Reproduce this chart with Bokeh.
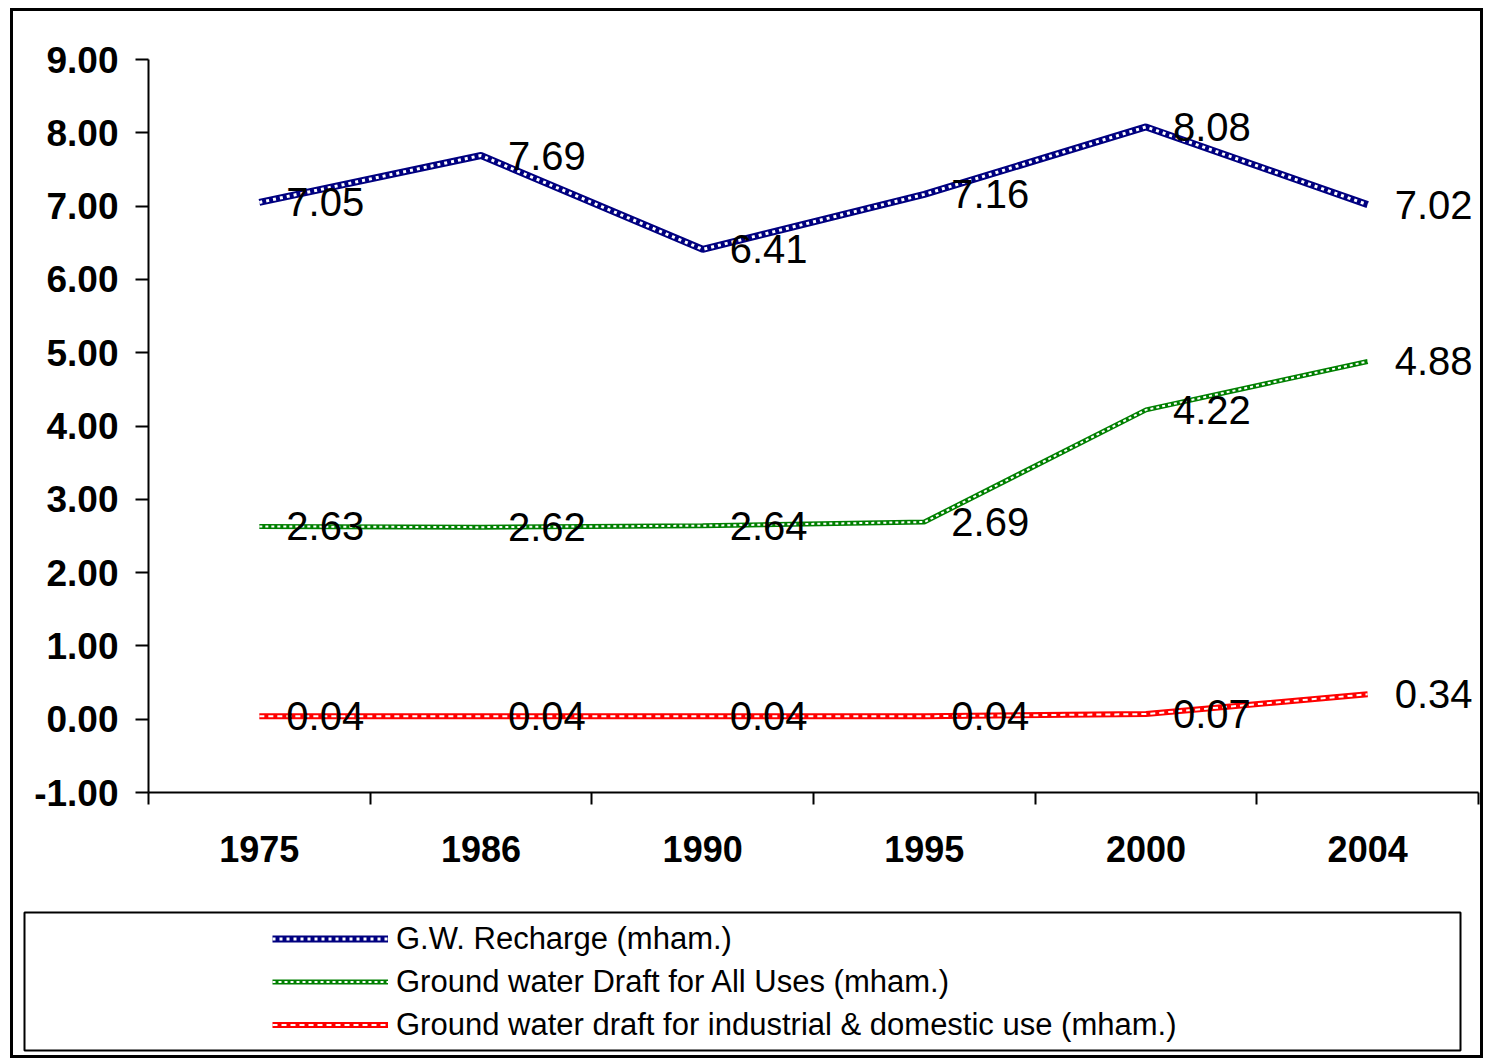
from bokeh.plotting import figure
from bokeh.layouts import column
from bokeh.models import (Range1d, FixedTicker, NumeralTickFormatter, Legend, LegendItem,
                          ColumnDataSource, LabelSet)
from bokeh.core.properties import value
from bokeh.embed import file_html
from bokeh.resources import INLINE

years = ["1975", "1986", "1990", "1995", "2000", "2004"]
recharge = [7.05, 7.69, 6.41, 7.16, 8.08, 7.02]
draft_all = [2.63, 2.62, 2.64, 2.69, 4.22, 4.88]
draft_ind = [0.04, 0.04, 0.04, 0.04, 0.07, 0.34]
y_ticks = [-1, 0, 1, 2, 3, 4, 5, 6, 7, 8, 9]
series_names = ["G.W. Recharge (mham.)",
                "Ground water Draft for All Uses (mham.)",
                "Ground water draft for industrial & domestic use (mham.)"]
series_colors = ["#000080", "#008000", "#FF0000"]

FONT = "Liberation Sans"
W = 1467
BORDER = "3px solid black"
xpos = [i + 0.5 for i in range(len(years))]

src = ColumnDataSource(dict(x=xpos, rech=recharge, dall=draft_all, dind=draft_ind,
                            lrech=[f"{v:.2f}" for v in recharge],
                            ldall=[f"{v:.2f}" for v in draft_all],
                            ldind=[f"{v:.2f}" for v in draft_ind]))

# styles per series: (main width, overlay width, overlay dash)
styles = [(7, 3, "3 4"), (5, 2, "3 3"), (6, 2, "5 4")]
cols = ["rech", "dall", "dind"]


def draw_series(fig):
    rs = []
    for col, color, (w, ow, dash) in zip(cols, series_colors, styles):
        a = fig.line("x", col, source=src, line_color=color, line_width=w)
        b = fig.line("x", col, source=src, line_color="white", line_width=ow, line_dash=dash)
        rs.append([a, b])
    return rs


# ---------------- main chart ----------------
p = figure(width=W, height=894, x_range=Range1d(0, len(years)), y_range=Range1d(-1, 9),
           output_backend="svg", toolbar_location=None,
           min_border_left=135, min_border_right=2, min_border_top=48, min_border_bottom=113)
p.outline_line_color = None
p.grid.visible = False
p.background_fill_color = "white"
p.border_fill_color = "white"

p.yaxis.ticker = FixedTicker(ticks=y_ticks, minor_ticks=[])
p.yaxis.formatter = NumeralTickFormatter(format="0.00")
p.yaxis.major_label_text_font = FONT
p.yaxis.major_label_text_font_style = "bold"
p.yaxis.major_label_text_font_size = "37px"
p.yaxis.major_label_text_color = "black"
p.yaxis.major_tick_out = 13
p.yaxis.major_tick_in = 0
p.yaxis.major_label_standoff = 17
p.yaxis.axis_line_width = 2
p.yaxis.major_tick_line_width = 2
p.yaxis.axis_line_color = "black"
p.yaxis.major_tick_line_color = "black"

p.xaxis.ticker = FixedTicker(ticks=xpos, minor_ticks=list(range(len(years) + 1)))
p.xaxis.major_label_overrides = {x: y for x, y in zip(xpos, years)}
p.xaxis.major_label_text_font = FONT
p.xaxis.major_label_text_font_style = "bold"
p.xaxis.major_label_text_font_size = "36px"
p.xaxis.major_label_text_color = "black"
p.xaxis.major_tick_out = 0
p.xaxis.major_tick_in = 0
p.xaxis.minor_tick_out = 12
p.xaxis.minor_tick_in = 0
p.xaxis.minor_tick_line_width = 2
p.xaxis.minor_tick_line_color = "black"
p.xaxis.major_label_standoff = 31
p.xaxis.axis_line_width = 2
p.xaxis.axis_line_color = "black"

draw_series(p)

for col in cols:
    p.add_layout(LabelSet(x="x", y=col, text="l" + col, source=src, x_offset=27,
                          text_baseline="middle", text_align="left",
                          text_font=value(FONT), text_font_size="40px", text_color="black"))

# ---------------- legend panel ----------------
p2 = figure(width=W, height=150, x_range=Range1d(100, 101), y_range=Range1d(100, 101),
            output_backend="svg", toolbar_location=None, x_axis_type=None, y_axis_type=None,
            min_border_left=11, min_border_right=20, min_border_top=7, min_border_bottom=5)
p2.grid.visible = False
p2.outline_line_color = "black"
p2.outline_line_width = 2
p2.background_fill_color = "white"
p2.border_fill_color = "white"
leg_rs = draw_series(p2)

legend = Legend(items=[LegendItem(label=n, renderers=r) for n, r in zip(series_names, leg_rs)],
                location=(248, 4), border_line_color=None, background_fill_alpha=0,
                padding=0, margin=0, spacing=0, glyph_width=116, glyph_height=43,
                label_height=43, label_standoff=8, label_text_font=FONT,
                label_text_font_size="31px", label_text_color="black")
p2.add_layout(legend)

top = column(p, spacing=0, styles={"border-left": BORDER, "border-right": BORDER,
                                   "border-top": BORDER, "margin-left": "10px",
                                   "margin-top": "8px"})
bottom = column(p2, spacing=0, styles={"border-left": BORDER, "border-right": BORDER,
                                       "border-bottom": BORDER, "margin-left": "10px"})

open("out.html", "w").write(file_html([top, bottom], INLINE))
